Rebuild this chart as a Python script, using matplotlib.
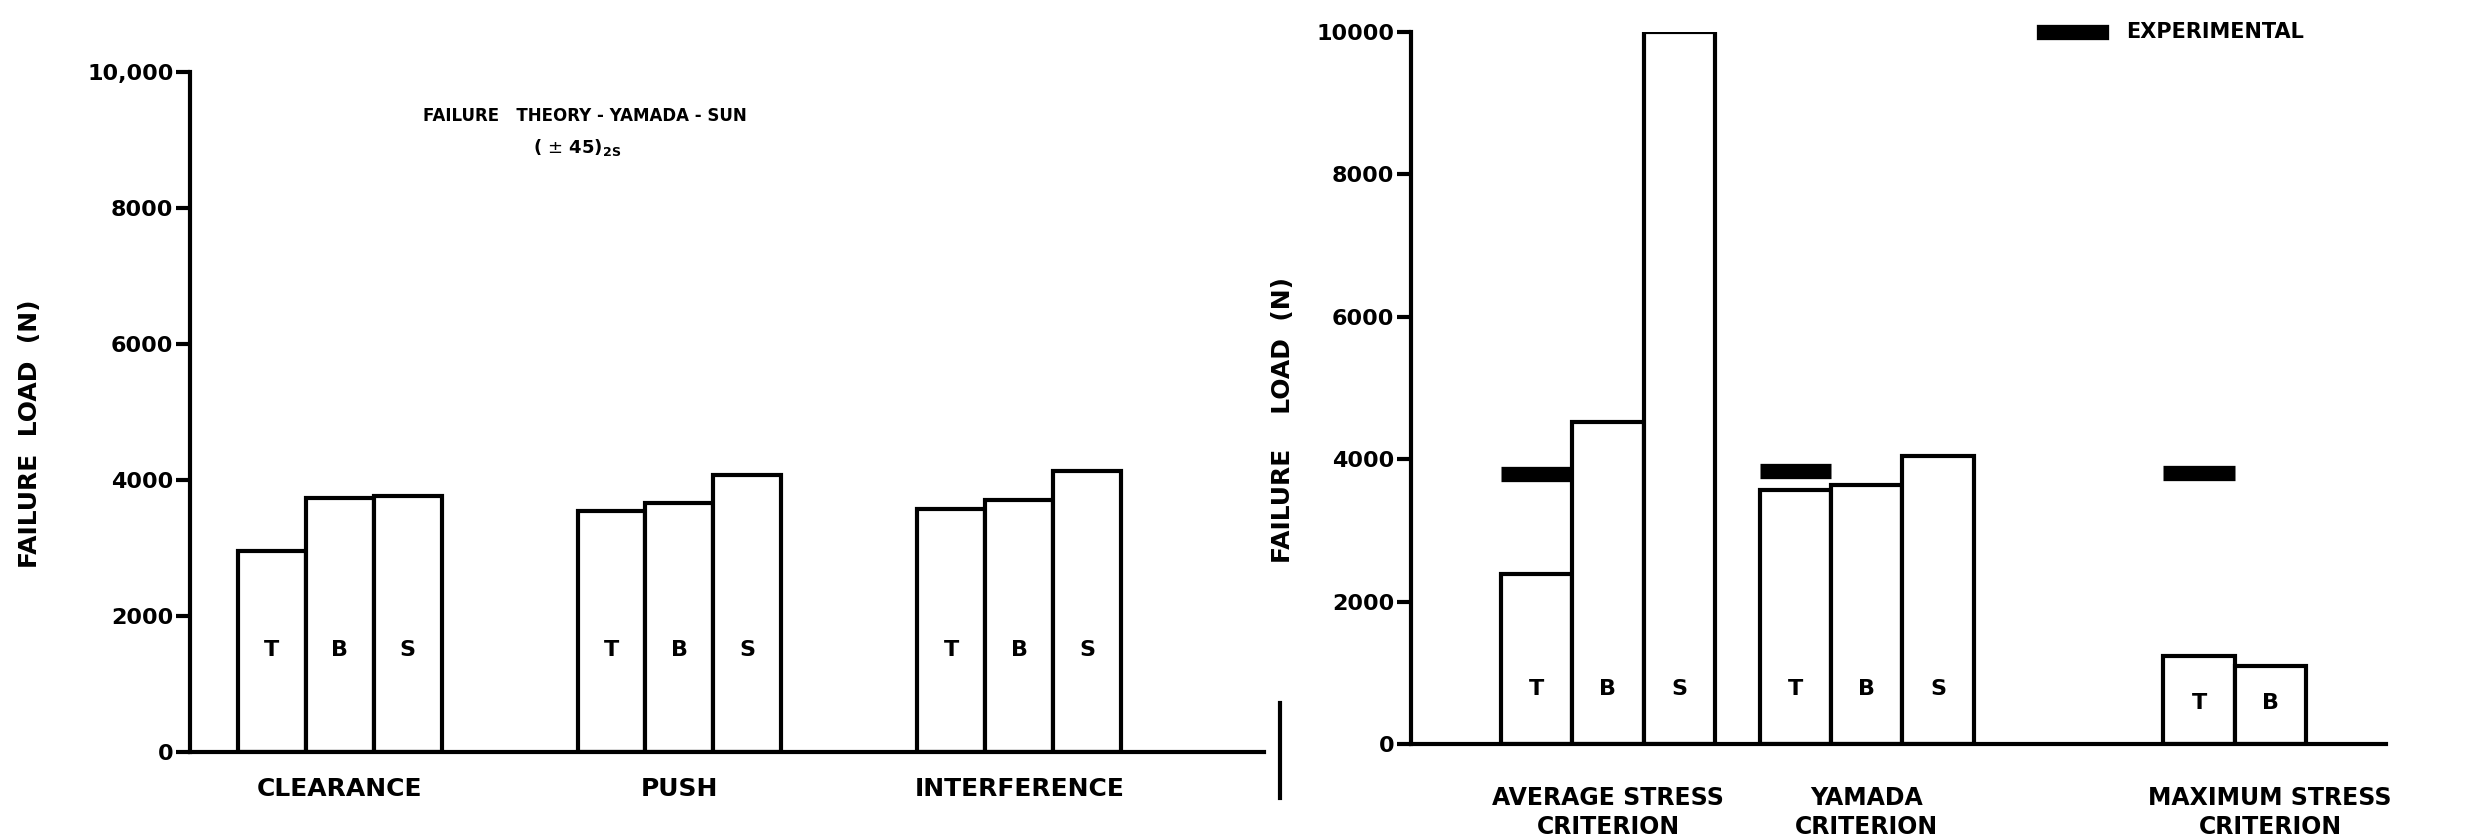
import matplotlib.pyplot as plt
from matplotlib.lines import Line2D

# 左图: 三种配合方式下的失效载荷 (Yamada-Sun 准则)
joint_fits = ['CLEARANCE', 'PUSH', 'INTERFERENCE']
modes = ['T', 'B', 'S']
clearance_loads = [2950, 3740, 3760]
push_loads = [3550, 3660, 4070]
interference_loads = [3570, 3700, 4130]
left_yticks = [0, 2000, 4000, 6000, 8000, 10000]
left_yticklabels = ['0', '2000', '4000', '6000', '8000', '10,000']

# 右图: 不同失效准则的预测值与实验值
criteria = ['AVERAGE STRESS\nCRITERION', 'YAMADA\nCRITERION', 'MAXIMUM STRESS\nCRITERION']
avg_stress_loads = [2390, 4520, 10000]
yamada_loads = [3560, 3640, 4040]
max_stress_loads = [1240, 1090]
experimental_loads = [3790, 3830, 3810]
right_yticks = [0, 2000, 4000, 6000, 8000, 10000]
right_yticklabels = ['0', '2000', '4000', '6000', '8000', '10000']

FONT = 'DejaVu Sans'
LW = 3


def style_axes(ax, yticks, yticklabels):
    for side in ['top', 'right']:
        ax.spines[side].set_visible(False)
    for side in ['left', 'bottom']:
        ax.spines[side].set_linewidth(LW)
    ax.set_ylim(0, 10000)
    ax.set_yticks(yticks)
    ax.set_yticklabels(yticklabels, fontsize=16, fontweight='bold', family=FONT)
    ax.tick_params(axis='y', length=10, width=LW, pad=2)
    ax.tick_params(axis='x', length=0)


def draw_group(ax, center, loads, text_y):
    xs = [center - 1 + i for i in range(len(loads))]
    ax.bar(xs, loads, width=1, facecolor='white', edgecolor='black', linewidth=LW)
    for x, m in zip(xs, modes):
        ax.text(x, text_y, m, ha='center', va='center', fontsize=16, fontweight='bold')
    return xs


fig = plt.figure(figsize=(24.78, 8.39), dpi=100)

# 1. 左图
ax1 = fig.add_axes([0.0767, 0.1036, 0.4334, 0.811])
left_centers = [0, 5, 10]
for c, loads in zip(left_centers, [clearance_loads, push_loads, interference_loads]):
    draw_group(ax1, c, loads, 1500)
ax1.set_xlim(-2.2, 13.6)
style_axes(ax1, left_yticks, left_yticklabels)
ax1.set_xticks(left_centers)
ax1.set_xticklabels(joint_fits, fontsize=18, fontweight='bold')
ax1.tick_params(axis='x', pad=18)
ax1.set_ylabel('FAILURE  LOAD  (N)', fontsize=18, fontweight='bold')
ax1.yaxis.set_label_coords(-0.138, 0.468)
ax1.text(0.368, 0.935, 'FAILURE   THEORY - YAMADA - SUN', transform=ax1.transAxes,
         ha='center', va='center', fontsize=12, fontweight='bold')
ax1.text(0.36, 0.888, r'( $\pm$ 45)$_{\mathbf{2S}}$', transform=ax1.transAxes,
         ha='center', va='center', fontsize=13, fontweight='bold')

# 2. 右图
ax2 = fig.add_axes([0.5694, 0.1132, 0.3935, 0.849])
right_centers = [0, 3.64, 9.31]
right_text_y = [770, 770, 580]
t_positions = []
for c, loads, ty in zip(right_centers, [avg_stress_loads, yamada_loads, max_stress_loads], right_text_y):
    xs = draw_group(ax2, c, loads, ty)
    t_positions.append(xs[0])
# 实验值: 粗黑横线, 位于 T 柱上方
for x, v in zip(t_positions, experimental_loads):
    ax2.plot([x - 0.5, x + 0.5], [v, v], color='black', linewidth=11, solid_capstyle='butt')
ax2.set_xlim(-2.77, 10.94)
style_axes(ax2, right_yticks, right_yticklabels)
ax2.set_xticks(right_centers)
ax2.set_xticklabels(criteria, fontsize=17, fontweight='bold', linespacing=1.3)
ax2.tick_params(axis='x', pad=30)
ax2.set_ylabel('FAILURE    LOAD  (N)', fontsize=18, fontweight='bold')
ax2.yaxis.set_label_coords(-0.119, 0.455)

# 图例
fig.add_artist(Line2D([0.825, 0.848], [0.962, 0.962], color='black', linewidth=11))
fig.text(0.858, 0.962, 'EXPERIMENTAL', ha='left', va='center', fontsize=15, fontweight='bold')

# 两图之间的竖线
fig.add_artist(Line2D([0.5166, 0.5166], [0.049, 0.162], color='black', linewidth=LW))

fig.savefig('out.png', dpi=100)
